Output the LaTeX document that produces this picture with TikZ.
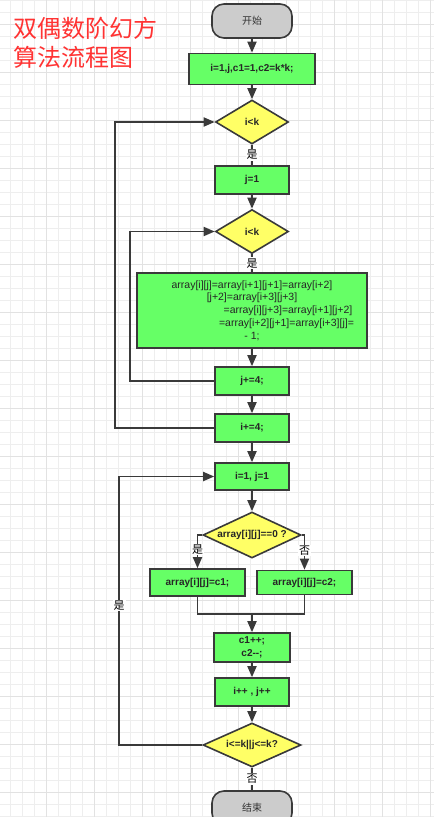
\documentclass[tikz,border=0pt]{standalone}
\usepackage{fontspec}
\setmainfont{Liberation Sans}
\newfontfamily\cjk{Noto Sans CJK SC}
\usepackage{xcolor}
\usetikzlibrary{shapes.geometric,arrows.meta,positioning}
\definecolor{box-green}{HTML}{66FF66}
\definecolor{cond-yellow}{HTML}{FFFF66}
\definecolor{term-gray}{HTML}{CCCCCC}
\definecolor{line-dark}{HTML}{3A3A3A}
\definecolor{title-red}{HTML}{FF3333}
\definecolor{grid-light}{HTML}{EEEEEE}
\definecolor{grid-dark}{HTML}{E2E2E2}
\tikzset{
    flow-box/.style = {draw=line-dark, fill=box-green, line width=1.6pt, rectangle, minimum width=74pt, minimum height=28pt, inner sep=2pt, text=black!85, font=\fontsize{10}{13}\selectfont\bfseries},
    flow-cond/.style = {draw=line-dark, fill=cond-yellow, line width=1.6pt, diamond, aspect=2, inner sep=0pt, minimum width=73pt, minimum height=44pt, text=black!85, font=\fontsize{10}{12}\selectfont\bfseries},
    flow-term/.style = {draw=line-dark, fill=term-gray, line width=1.6pt, rectangle, rounded corners=12pt, minimum width=80pt, minimum height=34pt, text=black!80, font=\cjk\fontsize{10}{12}\selectfont},
    flow-line/.style = {draw=line-dark, line width=1.8pt, -{Triangle[length=11pt,width=9pt]}},
    flow-plain/.style = {draw=line-dark, line width=1.8pt},
    flow-label/.style = {fill=white, inner sep=1pt, text=black, font=\cjk\fontsize{11}{12}\selectfont},
    title-text/.style = {anchor=base west, inner sep=0pt, text=title-red, font=\cjk\fontsize{24}{28}\selectfont},
}

\begin{document}
\begin{tikzpicture}[x=1pt, y=-1pt]
\useasboundingbox (0,0) rectangle (434,817);
\clip (0,0) rectangle (434,817);
\foreach \gx in {10,22,...,430} \draw[grid-light, line width=0.8pt] (\gx,0) -- (\gx,817);
\foreach \gy in {0,12,...,816} \draw[grid-light, line width=0.8pt] (0,\gy) -- (434,\gy);
\foreach \gx in {46,94,...,430} \draw[grid-dark, line width=0.8pt] (\gx,0) -- (\gx,817);
\foreach \gy in {24,72,...,792} \draw[grid-dark, line width=0.8pt] (0,\gy) -- (434,\gy);

\node[title-text] (title-top) at (13,37) {双偶数阶幻方};
\node[title-text] (title-bottom) at (13,66) {算法流程图};

\node[flow-term] (start) at (252,21) {开始};
\node[flow-box, minimum width=126pt, minimum height=31pt] (init) at (252,69) {i=1,j,c1=1,c2=k*k;};
\node[flow-cond] (cond-i) at (252,122) {i<k};
\node[flow-box] (set-j) at (252,180) {j=1};
\node[flow-cond] (cond-j) at (252,231.5) {i<k};
\node[flow-box, minimum width=230pt, minimum height=75pt, align=center, font=\fontsize{10.5}{12.7}\selectfont] (assign) at (252,310.5) {array[i][j]=array[i+1][j+1]=array[i+2]\\{}[j+2]=array[i+3][j+3]\\\hspace*{72pt}=array[i][j+3]=array[i+1][j+2]\\\hspace*{69pt}=array[i+2][j+1]=array[i+3][j]=\\- 1;};
\node[flow-box] (inc-j) at (252,381) {j+=4;};
\node[flow-box] (inc-i) at (252,428) {i+=4;};
\node[flow-box, minimum height=27pt] (reset) at (252,476.5) {i=1, j=1};
\node[flow-cond, minimum width=98pt, minimum height=46pt] (cond-zero) at (252,535) {array[i][j]==0 ?};
\node[flow-box, minimum width=95pt, minimum height=27pt] (put-c1) at (197.5,582.5) {array[i][j]=c1;};
\node[flow-box, minimum width=95pt, minimum height=24pt] (put-c2) at (304.5,582.5) {array[i][j]=c2;};
\node[flow-box, minimum width=76pt, minimum height=29pt, align=center] (step-c) at (252,647.5) {c1++;\\c2-{}-;};
\node[flow-box] (step-ij) at (252,692) {i++ , j++};
\node[flow-cond, minimum width=98pt, minimum height=44pt] (cond-end) at (252,745) {i<=k||j<=k?};
\node[flow-term] (stop) at (252,808) {结束};
\coordinate (merge) at (252,614);

\draw[flow-line] (start) -- (init);
\draw[flow-line] (init) -- (cond-i);
\draw[flow-plain] (cond-i) -- node[flow-label] {是} (set-j);
\draw[flow-line] (set-j) -- (cond-j);
\draw[flow-plain] (cond-j) -- node[flow-label] {是} (assign);
\draw[flow-line] (assign) -- (inc-j);
\draw[flow-line] (inc-j) -- (inc-i);
\draw[flow-line] (inc-j.west) -- ++(-84,0) |- (cond-j.west);
\draw[flow-line] (inc-i.west) -- ++(-99,0) |- (cond-i.west);
\draw[flow-line] (inc-i) -- (reset);
\draw[flow-line] (reset) -- (cond-zero);
\draw[flow-line] (cond-zero.west) -| node[flow-label, pos=0.72] {是} (put-c1);
\draw[flow-line] (cond-zero.east) -| node[flow-label, pos=0.72] {否} (put-c2);
\draw[flow-plain] (put-c1) |- (merge) -| (put-c2);
\draw[flow-line] (merge) -- (step-c);
\draw[flow-line] (step-c) -- (step-ij);
\draw[flow-line] (step-ij) -- (cond-end);
\draw[flow-line] (cond-end.west) -- ++(-83,0) |- node[flow-label, pos=0.26] {是} (reset.west);
\draw[flow-plain] (cond-end) -- node[flow-label] {否} (stop);
\end{tikzpicture}
\end{document}
